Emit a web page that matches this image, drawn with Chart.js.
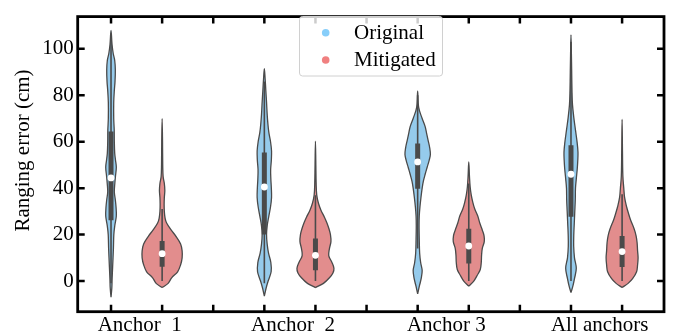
<!DOCTYPE html>
<html><head><meta charset="utf-8">
<script src="https://cdn.jsdelivr.net/npm/chart.js@4/dist/chart.umd.min.js"></script>
<style>html,body{margin:0;padding:0;background:#fff;}#wrap{width:674px;height:335px;}</style>
</head><body><div id="wrap"><canvas id="c" width="674" height="335"></canvas></div>
<script>
// ---------- data ----------
const categories = ['Anchor  1', 'Anchor  2', 'Anchor 3', 'All anchors'];
const seriesNames = ['Original', 'Mitigated'];
const yTickValues = [0, 20, 40, 60, 80, 100];
const yTitle = 'Ranging error (cm)';

// violin density profiles (value levels in cm, relative density)
const a1OrigLevels = [-7, -3, 1, 6, 14, 20, 24, 28, 32, 35, 38.5, 42, 45, 49, 52, 55, 60, 65, 70, 77, 82, 86, 91, 95, 98, 102, 108];
const a1OrigDensity = [0, 0.8, 1.1, 1.6, 2.4, 2.8, 3.8, 5.3, 5, 4.3, 3.3, 3.8, 4.4, 5.3, 4.5, 3.7, 3.3, 3.2, 2.7, 2.7, 3.3, 4, 4.3, 3.7, 2.2, 1, 0];
const a1MitLevels = [-2.8, -1, 1.4, 4, 7, 10, 13, 16, 19.5, 22, 25, 27, 30, 33, 36, 39, 42, 45, 50, 60, 70];
const a1MitDensity = [0, 6, 9.5, 15.5, 18.5, 20, 20, 18.5, 13.5, 9, 4.5, 3, 2.2, 2, 2.2, 2.7, 2.2, 1, 0.6, 0.4, 0];

const a2OrigLevels = [-6.5, -3, 0, 4, 8, 12, 16, 20, 24, 28, 32, 36, 40, 44, 48, 52, 56, 60, 64, 68, 72, 77, 82, 87, 91.5];
const a2OrigDensity = [0, 1.8, 3.8, 6.8, 6.5, 4.2, 2.8, 2.2, 2.9, 4.5, 6.2, 7.2, 7, 6.5, 6.3, 7, 7.2, 6.2, 4.5, 3.5, 2.8, 2.2, 1.5, 0.8, 0];
const a2MitLevels = [-2.8, -1, 1.4, 3.5, 5.5, 8, 11, 14, 17, 20, 22.5, 25, 27.5, 30.5, 33.5, 37, 42, 50, 60.3];
const a2MitDensity = [0, 8, 14, 17.5, 18.5, 16.5, 13.3, 14, 15.5, 15, 13.5, 11.5, 9, 5.5, 3, 1.3, 0.7, 0.4, 0];

const a3OrigLevels = [-5.5, -2, 1, 4.5, 8, 12, 18, 24, 28, 32, 36, 40, 43, 46, 49, 52, 54.5, 57.5, 60.5, 63.5, 66.5, 70, 74.8, 81.8];
const a3OrigDensity = [0, 1.8, 3.5, 4.5, 3, 2, 1.6, 1.4, 1.6, 2.3, 3.3, 4.5, 5.7, 7.5, 9.5, 11.5, 12.7, 12, 10.5, 9, 7.5, 4.5, 1, 0];
const a3MitLevels = [-2.2, 0, 2.5, 5, 8, 11, 14, 17, 19.5, 22, 25, 28, 31, 34, 37, 40.5, 45, 51.3];
const a3MitDensity = [0, 5, 8.5, 11.5, 12.5, 12.8, 13.5, 15.5, 15.3, 13.5, 11, 9, 6, 4, 2.5, 1.4, 0.7, 0];

const allOrigLevels = [-5, -2, 1, 5.5, 10, 15, 20, 25, 30, 35, 40, 44, 48.5, 52, 55.5, 59.5, 65, 70.5, 76, 82, 90, 98, 106];
const allOrigDensity = [0, 2, 3.5, 5.3, 3.5, 2.7, 2.8, 3.3, 3.8, 4.3, 4.5, 5.3, 6.3, 6.8, 7, 6.2, 4.5, 2.8, 1.5, 1, 0.7, 0.4, 0];
const allMitLevels = [-2.8, -1, 1, 4, 7, 10, 13, 16.6, 19.5, 22.5, 26.3, 29, 32, 36, 40, 45, 55, 69.6];
const allMitDensity = [0, 6, 10.5, 14.5, 15.5, 16, 15.5, 15, 14, 12, 8.5, 6.5, 4.5, 2.5, 1.7, 0.8, 0.4, 0];

// inner box statistics per category
const origQ1 = [26.2, 20, 39.8, 27.7];
const origMedian = [44.4, 40.5, 51.3, 46];
const origQ3 = [64.4, 55.4, 59.2, 58.5];
const origWhiskerLow = [-1, -1, 14, 0];
const origWhiskerHigh = [104, 86, 80, 103];
const mitQ1 = [6.2, 4.6, 7.6, 6];
const mitMedian = [11.8, 11.1, 15.1, 12.7];
const mitQ3 = [17.3, 18.3, 22.5, 19.4];
const mitWhiskerLow = [0, 0, 0, 0];
const mitWhiskerHigh = [31, 37, 42, 37.4];

// ---------- style ----------
const FONT = 'Liberation Serif, Times New Roman, serif';
const fillColors = ['#95CBEC', '#E28D8D'];
const legendColors = ['#87CEFA', '#F08080'];
const inkColor = '#4a4a4a';
const densityToX = 1 / 51.13;   // density unit -> x-axis units
const labelShift = 0.06;

const profiles = [
  [[a1OrigLevels, a1OrigDensity], [a1MitLevels, a1MitDensity]],
  [[a2OrigLevels, a2OrigDensity], [a2MitLevels, a2MitDensity]],
  [[a3OrigLevels, a3OrigDensity], [a3MitLevels, a3MitDensity]],
  [[allOrigLevels, allOrigDensity], [allMitLevels, allMitDensity]]
];
const stats = [
  {q1: origQ1, med: origMedian, q3: origQ3, lo: origWhiskerLow, hi: origWhiskerHigh},
  {q1: mitQ1, med: mitMedian, q3: mitQ3, lo: mitWhiskerLow, hi: mitWhiskerHigh}
];

const groupCenter = i => 1.5 + 3 * i;
const hueOffset = [-0.5, 0.5];
const minorTicks = [];
categories.forEach((c, i) => { minorTicks.push(groupCenter(i) - 0.5, groupCenter(i) + 0.5); if (i < categories.length - 1) minorTicks.push(groupCenter(i) + 1.5); });

const datasets = [];
categories.forEach((cat, i) => {
  [0, 1].forEach(h => {
    const pos = groupCenter(i) + hueOffset[h];
    const [lv, dn] = profiles[i][h];
    const pts = [];
    for (let k = 0; k < lv.length; k++) pts.push({x: pos + dn[k] * densityToX, y: lv[k]});
    for (let k = lv.length - 2; k >= 0; k--) pts.push({x: pos - dn[k] * densityToX, y: lv[k]});
    datasets.push({type: 'line', label: seriesNames[h], data: pts, fill: 'shape', tension: 0.35,
      backgroundColor: fillColors[h], borderColor: inkColor, borderWidth: 1.3, pointRadius: 0, order: 3});
    const s = stats[h];
    datasets.push({type: 'line', label: '', data: [{x: pos, y: s.lo[i]}, {x: pos, y: s.hi[i]}], fill: false,
      borderColor: inkColor, borderWidth: 1.6, pointRadius: 0, tension: 0, order: 2});
    datasets.push({type: 'line', label: '', data: [{x: pos, y: s.q1[i]}, {x: pos, y: s.q3[i]}], fill: false,
      borderColor: inkColor, borderWidth: 5, borderCapStyle: 'butt', pointRadius: 0, tension: 0, order: 1});
    datasets.push({type: 'line', label: '', data: [{x: pos, y: s.med[i]}], showLine: false,
      pointRadius: 3.4, pointBackgroundColor: '#ffffff', pointBorderWidth: 0, order: 0});
  });
});

const framePlugin = {
  id: 'frame',
  afterDatasetsDraw(chart) {
    const {ctx, chartArea: a, scales: {x, y}} = chart;
    ctx.save();
    ctx.strokeStyle = '#000'; ctx.lineWidth = 2.8;
    ctx.strokeRect(a.left, a.top, a.right - a.left, a.bottom - a.top);
    ctx.lineWidth = 2.5; ctx.lineCap = 'butt';
    ctx.beginPath();
    minorTicks.forEach(v => {
      const px = x.getPixelForValue(v);
      ctx.moveTo(px, a.bottom); ctx.lineTo(px, a.bottom - 7);
      ctx.moveTo(px, a.top); ctx.lineTo(px, a.top + 7);
    });
    yTickValues.forEach(v => {
      const py = y.getPixelForValue(v);
      ctx.moveTo(a.left, py); ctx.lineTo(a.left + 7, py);
      ctx.moveTo(a.right, py); ctx.lineTo(a.right - 7, py);
    });
    ctx.stroke();
    // legend
    ctx.fillStyle = 'rgba(255,255,255,0.8)';
    ctx.strokeStyle = '#d0d0d0'; ctx.lineWidth = 1;
    ctx.beginPath(); ctx.roundRect(299.5, 16.5, 143, 59.5, 3); ctx.fill(); ctx.stroke();
    ctx.font = '21px ' + FONT; ctx.textAlign = 'left'; ctx.textBaseline = 'alphabetic';
    seriesNames.forEach((n, k) => {
      const cy = 32.7 + k * 27.3;
      ctx.fillStyle = legendColors[k];
      ctx.beginPath(); ctx.arc(325.7, cy, 3.8, 0, Math.PI * 2); ctx.fill();
      ctx.fillStyle = '#000';
      ctx.fillText(n, 354, cy + 5.8);
    });
    // y title
    ctx.translate(29, 150.5); ctx.rotate(-Math.PI / 2);
    ctx.textAlign = 'center'; ctx.fillText(yTitle, 0, 0);
    ctx.restore();
  }
};

new Chart(document.getElementById('c'), {
  type: 'line',
  data: {datasets},
  options: {
    responsive: false, animation: false, devicePixelRatio: 1,
    layout: {padding: {top: 6, right: 10, bottom: 0, left: 0}},
    plugins: {legend: {display: false}, tooltip: {enabled: false}},
    scales: {
      x: {type: 'linear', min: 0.348, max: 11.82,
        afterBuildTicks: s => { s.ticks = categories.map((c, i) => ({value: groupCenter(i) + labelShift})); },
        ticks: {callback: (v, i) => categories[i], font: {family: FONT, size: 21}, color: '#000', padding: 1, maxRotation: 0, autoSkip: false},
        grid: {display: false, drawTicks: false}, border: {display: false},
        afterFit: s => { s.height = 23.3; }},
      y: {type: 'linear', min: -13.2, max: 113.9,
        afterBuildTicks: s => { s.ticks = yTickValues.map(v => ({value: v})); },
        ticks: {font: {family: FONT, size: 21}, color: '#000', padding: 4},
        grid: {display: false, drawTicks: false}, border: {display: false},
        afterFit: s => { s.width = 77.7; }}
    }
  },
  plugins: [framePlugin]
});
</script></body></html>
